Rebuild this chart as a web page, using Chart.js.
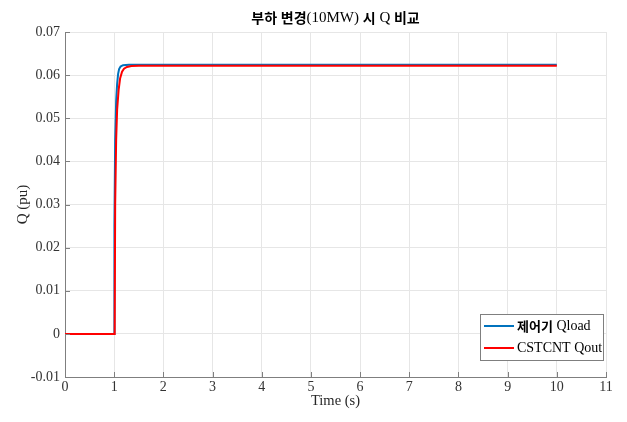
<!DOCTYPE html>
<html>
<head>
<meta charset="utf-8">
<script src="https://cdn.jsdelivr.net/npm/chart.js@4"></script>
<style>
  html, body { margin: 0; padding: 0; background: #fff; }
  #wrap { width: 627px; height: 422px; }
</style>
</head>
<body>
<div id="wrap"><canvas id="chart"></canvas></div>
<script>
// values
const titleText = "부하 변경(10MW) 시 Q 비교";
const seriesNames = ["제어기 Qload", "CSTCNT Qout"];
const qloadTime = [0, 1.0, 1.005, 1.02, 1.04, 1.06, 1.08, 1.1, 1.13, 1.18, 1.3, 10];
const qloadVals = [0, 0, 0.025, 0.045, 0.054, 0.058, 0.0603, 0.0614, 0.0620, 0.0623, 0.0624, 0.0624];
const qoutTime = [0, 1.01, 1.02, 1.04, 1.06, 1.09, 1.12, 1.16, 1.2, 1.26, 1.35, 1.5, 10];
const qoutVals = [0, 0, 0.03, 0.045, 0.052, 0.0565, 0.0592, 0.0608, 0.0615, 0.0619, 0.0621, 0.0622, 0.0622];
const xTicks = [0, 1, 2, 3, 4, 5, 6, 7, 8, 9, 10, 11];
const yTicks = [-0.01, 0, 0.01, 0.02, 0.03, 0.04, 0.05, 0.06, 0.07];

const toPoints = (xs, ys) => xs.map((x, i) => ({ x: x, y: ys[i] }));

const serif = "'Liberation Serif', 'Times New Roman', serif";
const cjk = "'Noto Sans CJK KR', sans-serif";

// draws text with hangul runs in bold sans and latin runs in serif
function drawMixed(ctx, text, x, y, size, align) {
    const parts = text.match(/[\uac00-\ud7a3\u3130-\u318f]+|[^\uac00-\ud7a3\u3130-\u318f]+/g);
    const fontOf = p => /[\uac00-\ud7a3]/.test(p) ? "bold " + (size - 1) + "px " + cjk : size + "px " + serif;
    let total = 0;
    parts.forEach(p => { ctx.font = fontOf(p); total += ctx.measureText(p).width; });
    let cx = align === "center" ? x - total / 2 : x;
    ctx.textBaseline = "middle";
    ctx.textAlign = "left";
    parts.forEach(p => {
        ctx.font = fontOf(p);
        ctx.fillText(p, cx, y);
        cx += ctx.measureText(p).width;
    });
}

const matlabLook = {
    id: "matlabLook",
    afterDraw(chart) {
        const ctx = chart.ctx;
        const area = chart.chartArea;
        const xs = chart.scales.x, ys = chart.scales.y;
        ctx.save();
        // inward ticks
        ctx.strokeStyle = "#7f7f7f";
        ctx.lineWidth = 1;
        ctx.beginPath();
        yTicks.forEach(v => {
            const py = Math.round(ys.getPixelForValue(v)) + 0.5;
            ctx.moveTo(area.left, py);
            ctx.lineTo(area.left + 5, py);
        });
        xTicks.forEach(v => {
            const px = Math.round(xs.getPixelForValue(v)) + 0.5;
            ctx.moveTo(px, area.bottom);
            ctx.lineTo(px, area.bottom - 5);
        });
        ctx.stroke();

        // title
        ctx.fillStyle = "#000";
        drawMixed(ctx, titleText, (area.left + area.right) / 2, 18, 15, "center");

        // legend box
        const bx = 480, by = 314, bw = 123, bh = 46;
        ctx.fillStyle = "#fff";
        ctx.fillRect(bx, by, bw, bh);
        ctx.strokeStyle = "#7f7f7f";
        ctx.lineWidth = 1;
        ctx.strokeRect(bx + 0.5, by + 0.5, bw, bh);
        chart.data.datasets.forEach((ds, i) => {
            const ly = by + 12 + i * 22;
            ctx.strokeStyle = ds.borderColor;
            ctx.lineWidth = 2;
            ctx.beginPath();
            ctx.moveTo(bx + 4, ly);
            ctx.lineTo(bx + 34, ly);
            ctx.stroke();
            ctx.fillStyle = "#000";
            drawMixed(ctx, ds.label, bx + 37, ly, 14, "left");
        });
        ctx.restore();
    }
};

const fmt = v => String(parseFloat(Number(v).toFixed(2)));

new Chart(document.getElementById("chart"), {
    type: "line",
    data: {
        datasets: [
            {
                label: seriesNames[0],
                data: toPoints(qloadTime, qloadVals),
                borderColor: "#0072BD",
                borderWidth: 2,
                pointRadius: 0,
                tension: 0,
                order: 1
            },
            {
                label: seriesNames[1],
                data: toPoints(qoutTime, qoutVals),
                borderColor: "#FF0000",
                borderWidth: 2,
                pointRadius: 0,
                tension: 0,
                order: 0
            }
        ]
    },
    options: {
        responsive: true,
        maintainAspectRatio: false,
        animation: false,
        layout: { padding: { top: 32, right: 21, left: 0, bottom: 0 } },
        plugins: {
            legend: { display: false },
            title: { display: false },
            tooltip: { enabled: false }
        },
        scales: {
            x: {
                type: "linear",
                min: 0,
                max: 11,
                afterFit: s => { s.height = 45; },
                afterBuildTicks: s => { s.ticks = xTicks.map(v => ({ value: v })); },
                ticks: { color: "#333", font: { family: serif, size: 14 }, padding: 2, callback: fmt, maxRotation: 0 },
                grid: { color: "#e6e6e6", drawTicks: false },
                border: { display: true, color: "#7f7f7f" },
                title: { display: true, text: "Time (s)", color: "#262626", font: { family: serif, size: 14.5 }, padding: { top: 0, bottom: 12 } }
            },
            y: {
                min: -0.01,
                max: 0.07,
                afterFit: s => { s.width = 65; },
                afterBuildTicks: s => { s.ticks = yTicks.map(v => ({ value: v })); },
                ticks: { color: "#333", font: { family: serif, size: 14 }, padding: 5, callback: fmt },
                grid: { color: "#e6e6e6", drawTicks: false },
                border: { display: true, color: "#7f7f7f" },
                title: { display: true, text: "Q (pu)", color: "#262626", font: { family: serif, size: 15 }, padding: { top: 14, bottom: 0 } }
            }
        }
    },
    plugins: [matlabLook]
});
</script>
</body>
</html>
